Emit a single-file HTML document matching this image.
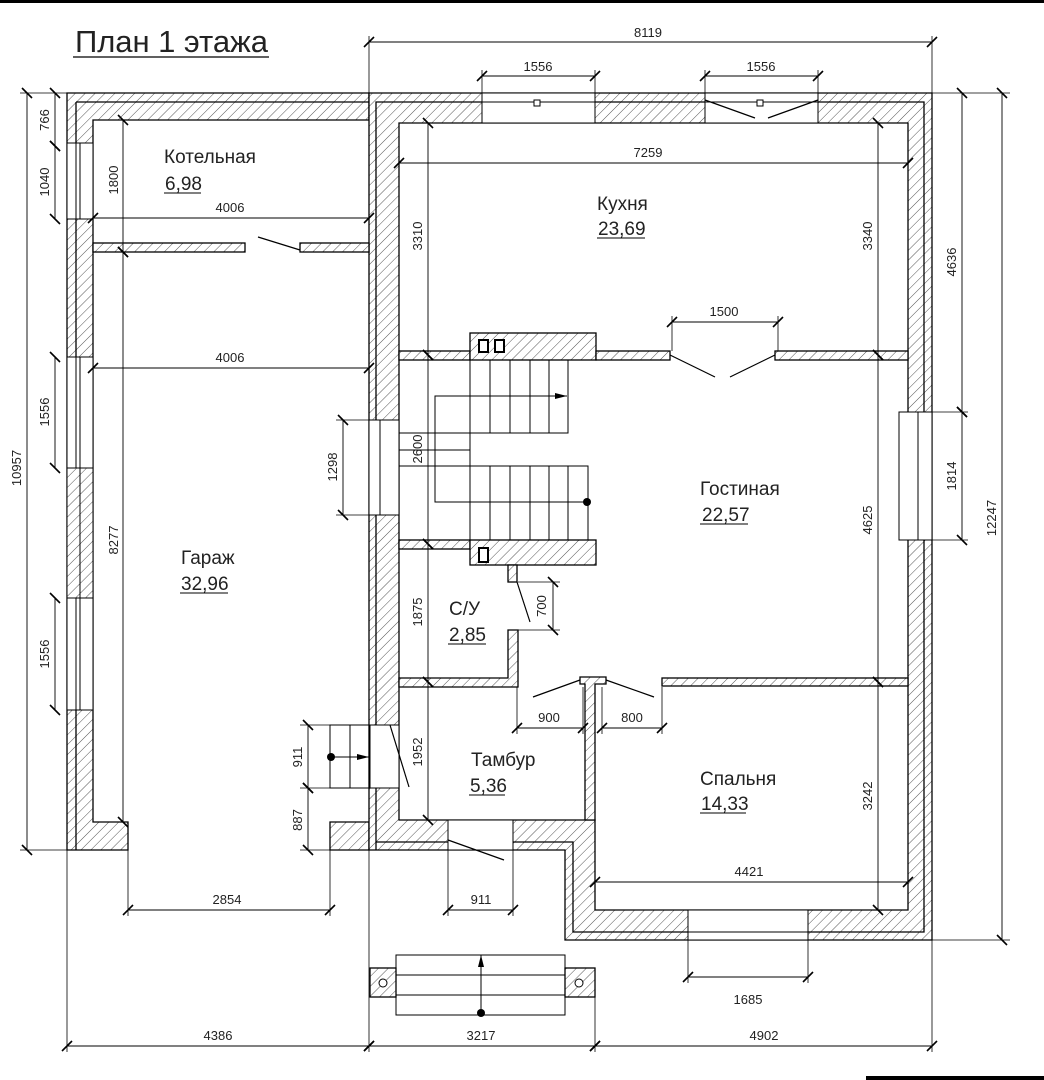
<!DOCTYPE html>
<html><head><meta charset="utf-8"><style>
html,body{margin:0;padding:0;background:#fff}
svg{display:block}
text{font-family:"Liberation Sans Narrow","Liberation Sans",sans-serif;fill:#222}
.d{font-size:13px}
.r{font-size:19px}
</style></head><body>
<svg width="1044" height="1080" viewBox="0 0 1044 1080" xmlns="http://www.w3.org/2000/svg">
<defs>
<pattern id="h" patternUnits="userSpaceOnUse" width="7" height="7" patternTransform="rotate(45)">
<rect width="7" height="7" fill="#fff"/><line x1="0" y1="0" x2="0" y2="7" stroke="#555" stroke-width="1"/>
</pattern>
<marker id="t" viewBox="-6 -6 12 12" markerWidth="12" markerHeight="12" orient="auto" markerUnits="userSpaceOnUse">
<path d="M-5,5 L5,-5" stroke="#000" stroke-width="1.6"/>
</marker>
<marker id="a" viewBox="0 -4 12 8" markerWidth="12" markerHeight="8" refX="12" refY="0" orient="auto" markerUnits="userSpaceOnUse">
<path d="M0,-3 L12,0 L0,3z" fill="#000"/>
</marker>
</defs>
<rect x="0" y="0" width="1044" height="3" fill="#000"/>
<rect x="866" y="1076" width="178" height="4" fill="#000"/>

<text x="75" y="52" style="font-size:31px;font-weight:300" textLength="193">План 1 этажа</text>
<line x1="73" y1="57" x2="269" y2="57" stroke="#000" stroke-width="1.2"/>

<g stroke="#000" stroke-width="1.3" fill="url(#h)">
<!-- garage walls -->
<path d="M67,93 H369 V120 H93 V822 H128 V850 H67 Z"/>
<path d="M330,822 H369 V850 H330 Z"/>
<line x1="76" y1="102" x2="369" y2="102"/>
<line x1="76" y1="102" x2="76" y2="850"/>
<!-- house ring -->
<path fill-rule="evenodd" d="M369,93 H932 V940 H565 V850 H369 Z M399,123 H908 V910 H595 V820 H399 Z"/>
<path fill="none" d="M376,850 V102 H924 V932 H573 V842 H376"/>
<!-- garage partition -->
<rect x="93" y="243" width="152" height="9"/>
<rect x="300" y="243" width="69" height="9"/>
<!-- kitchen/living partition -->
<rect x="399" y="351" width="71" height="9"/>
<rect x="470" y="333" width="126" height="27"/>
<rect x="596" y="351" width="74" height="9"/>
<rect x="775" y="351" width="133" height="9"/>
<!-- under stair -->
<rect x="399" y="540" width="71" height="9"/>
<rect x="470" y="540" width="126" height="25"/>
<rect x="508" y="565" width="9" height="17"/>
<!-- C/U walls -->
<path d="M508,630 H518 V687 H399 V678 H508 Z"/>
<!-- tambur right wall -->
<path d="M580,677 H606 V684 H595 V820 H585 V684 H580 Z"/>
<!-- bedroom partition -->
<rect x="662" y="678" width="246" height="8"/>
<!-- porch ends -->
<rect x="370" y="968" width="26" height="29"/>
<rect x="565" y="968" width="30" height="29"/>
</g>
<circle cx="383" cy="983" r="4" fill="#fff" stroke="#000"/>
<circle cx="579" cy="983" r="4" fill="#fff" stroke="#000"/>
<!-- chimney vents -->
<g fill="#fff" stroke="#000" stroke-width="2">
<rect x="479" y="340" width="9" height="12"/><rect x="495" y="340" width="9" height="12"/>
<rect x="479" y="548" width="9" height="14"/>
</g>

<!-- windows -->
<g fill="#fff" stroke="#000" stroke-width="1">
<rect x="482" y="93" width="113" height="30"/><line x1="482" y1="102" x2="595" y2="102"/><rect x="534" y="100" width="6" height="6"/>
<rect x="705" y="93" width="113" height="30"/><line x1="705" y1="102" x2="818" y2="102"/><rect x="757" y="100" width="6" height="6"/>
<rect x="688" y="910" width="120" height="30"/><line x1="688" y1="932" x2="808" y2="932"/>
<rect x="899" y="412" width="33" height="128"/><line x1="918" y1="412" x2="918" y2="540"/>
<rect x="369" y="420" width="30" height="95"/><line x1="380" y1="420" x2="380" y2="515"/>
<rect x="67" y="143" width="26" height="76"/><line x1="76" y1="143" x2="76" y2="219"/><line x1="80" y1="143" x2="80" y2="219"/>
<rect x="67" y="357" width="26" height="111"/><line x1="76" y1="357" x2="76" y2="468"/><line x1="80" y1="357" x2="80" y2="468"/>
<rect x="67" y="468" width="26" height="130" fill="url(#h)"/><line x1="80" y1="468" x2="80" y2="598"/>
<rect x="67" y="598" width="26" height="112"/><line x1="76" y1="598" x2="76" y2="710"/><line x1="80" y1="598" x2="80" y2="710"/>
<!-- entrance opening -->
<rect x="448" y="820" width="65" height="30"/>
<rect x="369" y="725" width="30" height="63"/>
</g>

<!-- door swings -->
<g stroke="#000" stroke-width="1.2" fill="none">
<line x1="258" y1="237" x2="300" y2="250"/>
<line x1="670" y1="355" x2="715" y2="377"/>
<line x1="775" y1="355" x2="730" y2="377"/>
<line x1="705" y1="100" x2="755" y2="118"/><line x1="818" y1="100" x2="768" y2="118"/>
<line x1="517" y1="582" x2="530" y2="622"/>
<line x1="580" y1="680" x2="533" y2="697"/>
<line x1="606" y1="680" x2="654" y2="697"/>
<line x1="390" y1="725" x2="409" y2="787"/>
<line x1="448" y1="840" x2="504" y2="860"/>
</g>

<!-- stairs -->
<g stroke="#000" stroke-width="1" fill="none">
<path d="M470,360 V433 H568 V360"/>
<line x1="490" y1="360" x2="490" y2="433"/><line x1="510" y1="360" x2="510" y2="433"/><line x1="530" y1="360" x2="530" y2="433"/><line x1="549" y1="360" x2="549" y2="433"/>
<path d="M470,540 V466 H588 V540"/>
<line x1="490" y1="466" x2="490" y2="540"/><line x1="510" y1="466" x2="510" y2="540"/><line x1="530" y1="466" x2="530" y2="540"/><line x1="549" y1="466" x2="549" y2="540"/><line x1="568" y1="466" x2="568" y2="540"/>
<line x1="399" y1="433" x2="470" y2="433"/><line x1="399" y1="450" x2="470" y2="450"/><line x1="399" y1="466" x2="470" y2="466"/>
<line x1="470" y1="433" x2="470" y2="466"/>
<path d="M587,502 H435 V396 H567" marker-end="url(#a)"/>
<!-- left step -->
<rect x="330" y="725" width="40" height="63"/><line x1="350" y1="725" x2="350" y2="788"/>
<path d="M331,757 H369" marker-end="url(#a)"/>
<!-- porch step -->
<rect x="396" y="955" width="169" height="60"/><line x1="396" y1="975" x2="565" y2="975"/><line x1="396" y1="995" x2="565" y2="995"/>
<path d="M481,1014 V955" marker-end="url(#a)"/>
</g>
<circle cx="587" cy="502" r="4" fill="#000"/>
<circle cx="331" cy="757" r="4" fill="#000"/>
<circle cx="481" cy="1013" r="4" fill="#000"/>

<!-- dimension lines -->
<g stroke="#000" stroke-width="0.9" fill="none" marker-start="url(#t)" marker-end="url(#t)">
<line x1="369" y1="42" x2="932" y2="42"/>
<line x1="482" y1="76" x2="595" y2="76"/>
<line x1="705" y1="76" x2="818" y2="76"/>
<line x1="399" y1="163" x2="908" y2="163"/>
<line x1="93" y1="218" x2="369" y2="218"/>
<line x1="93" y1="368" x2="369" y2="368"/>
<line x1="123" y1="120" x2="123" y2="252"/>
<line x1="123" y1="252" x2="123" y2="822"/>
<line x1="27" y1="93" x2="27" y2="850"/>
<line x1="55" y1="93" x2="55" y2="146"/>
<line x1="55" y1="146" x2="55" y2="219"/>
<line x1="55" y1="357" x2="55" y2="468"/>
<line x1="55" y1="598" x2="55" y2="710"/>
<line x1="428" y1="123" x2="428" y2="355"/>
<line x1="428" y1="355" x2="428" y2="544"/>
<line x1="428" y1="544" x2="428" y2="682"/>
<line x1="428" y1="682" x2="428" y2="820"/>
<line x1="878" y1="123" x2="878" y2="355"/>
<line x1="878" y1="355" x2="878" y2="682"/>
<line x1="878" y1="682" x2="878" y2="910"/>
<line x1="343" y1="420" x2="343" y2="515"/>
<line x1="553" y1="582" x2="553" y2="630"/>
<line x1="672" y1="322" x2="778" y2="322"/>
<line x1="517" y1="728" x2="583" y2="728"/>
<line x1="602" y1="728" x2="662" y2="728"/>
<line x1="308" y1="725" x2="308" y2="788"/>
<line x1="308" y1="788" x2="308" y2="850"/>
<line x1="128" y1="910" x2="330" y2="910"/>
<line x1="448" y1="910" x2="513" y2="910"/>
<line x1="595" y1="882" x2="908" y2="882"/>
<line x1="688" y1="977" x2="808" y2="977"/>
<line x1="67" y1="1046" x2="369" y2="1046"/>
<line x1="369" y1="1046" x2="595" y2="1046"/>
<line x1="595" y1="1046" x2="932" y2="1046"/>
<line x1="962" y1="93" x2="962" y2="412"/>
<line x1="962" y1="412" x2="962" y2="540"/>
<line x1="1002" y1="93" x2="1002" y2="940"/>
</g>
<!-- extension lines -->
<g stroke="#000" stroke-width="0.8">
<line x1="369" y1="36" x2="369" y2="93"/><line x1="932" y1="36" x2="932" y2="93"/>
<line x1="482" y1="70" x2="482" y2="100"/><line x1="595" y1="70" x2="595" y2="100"/>
<line x1="705" y1="70" x2="705" y2="100"/><line x1="818" y1="70" x2="818" y2="100"/>
<line x1="20" y1="93" x2="67" y2="93"/><line x1="20" y1="850" x2="67" y2="850"/>
<line x1="932" y1="93" x2="1010" y2="93"/><line x1="932" y1="940" x2="1010" y2="940"/>
<line x1="932" y1="412" x2="968" y2="412"/><line x1="932" y1="540" x2="968" y2="540"/>
<line x1="67" y1="850" x2="67" y2="1052"/><line x1="369" y1="850" x2="369" y2="1052"/><line x1="595" y1="997" x2="595" y2="1052"/><line x1="932" y1="940" x2="932" y2="1052"/>
<line x1="128" y1="850" x2="128" y2="916"/><line x1="330" y1="850" x2="330" y2="916"/>
<line x1="448" y1="850" x2="448" y2="916"/><line x1="513" y1="850" x2="513" y2="916"/>
<line x1="688" y1="940" x2="688" y2="983"/><line x1="808" y1="940" x2="808" y2="983"/>
<line x1="672" y1="316" x2="672" y2="351"/><line x1="778" y1="316" x2="778" y2="351"/>
<line x1="517" y1="687" x2="517" y2="734"/><line x1="583" y1="687" x2="583" y2="734"/>
<line x1="602" y1="687" x2="602" y2="734"/><line x1="662" y1="687" x2="662" y2="734"/>
<line x1="336" y1="420" x2="369" y2="420"/><line x1="336" y1="515" x2="369" y2="515"/>
<line x1="300" y1="725" x2="330" y2="725"/><line x1="300" y1="788" x2="330" y2="788"/><line x1="300" y1="850" x2="330" y2="850"/>
<line x1="518" y1="582" x2="560" y2="582"/><line x1="518" y1="630" x2="560" y2="630"/>
</g>

<!-- dimension texts -->
<g class="d" text-anchor="middle">
<text x="648" y="37">8119</text>
<text x="538" y="71">1556</text>
<text x="761" y="71">1556</text>
<text x="648" y="157">7259</text>
<text x="230" y="212">4006</text>
<text x="230" y="362">4006</text>
<text x="724" y="316">1500</text>
<text x="549" y="722">900</text>
<text x="632" y="722">800</text>
<text x="227" y="904">2854</text>
<text x="481" y="904">911</text>
<text x="749" y="876">4421</text>
<text x="748" y="1004">1685</text>
<text x="218" y="1040">4386</text>
<text x="481" y="1040">3217</text>
<text x="764" y="1040">4902</text>
<text transform="translate(118,180) rotate(-90)">1800</text>
<text transform="translate(118,540) rotate(-90)">8277</text>
<text transform="translate(21,468) rotate(-90)">10957</text>
<text transform="translate(49,120) rotate(-90)">766</text>
<text transform="translate(49,182) rotate(-90)">1040</text>
<text transform="translate(49,412) rotate(-90)">1556</text>
<text transform="translate(49,654) rotate(-90)">1556</text>
<text transform="translate(422,236) rotate(-90)">3310</text>
<text transform="translate(422,449) rotate(-90)">2600</text>
<text transform="translate(422,612) rotate(-90)">1875</text>
<text transform="translate(422,752) rotate(-90)">1952</text>
<text transform="translate(872,236) rotate(-90)">3340</text>
<text transform="translate(872,520) rotate(-90)">4625</text>
<text transform="translate(872,796) rotate(-90)">3242</text>
<text transform="translate(337,467) rotate(-90)">1298</text>
<text transform="translate(546,606) rotate(-90)">700</text>
<text transform="translate(302,757) rotate(-90)">911</text>
<text transform="translate(302,820) rotate(-90)">887</text>
<text transform="translate(956,262) rotate(-90)">4636</text>
<text transform="translate(956,476) rotate(-90)">1814</text>
<text transform="translate(996,518) rotate(-90)">12247</text>
</g>

<!-- room labels -->
<g class="r">
<text x="164" y="163">Котельная</text><text x="165" y="190">6,98</text><line x1="164" y1="193" x2="201" y2="193" stroke="#000"/>
<text x="597" y="210">Кухня</text><text x="598" y="235">23,69</text><line x1="597" y1="238" x2="645" y2="238" stroke="#000"/>
<text x="700" y="495">Гостиная</text><text x="702" y="521">22,57</text><line x1="700" y1="524" x2="748" y2="524" stroke="#000"/>
<text x="181" y="564">Гараж</text><text x="181" y="590">32,96</text><line x1="180" y1="593" x2="228" y2="593" stroke="#000"/>
<text x="449" y="615">С/У</text><text x="449" y="641">2,85</text><line x1="448" y1="644" x2="486" y2="644" stroke="#000"/>
<text x="471" y="766">Тамбур</text><text x="470" y="792">5,36</text><line x1="469" y1="795" x2="505" y2="795" stroke="#000"/>
<text x="700" y="785">Спальня</text><text x="701" y="810">14,33</text><line x1="700" y1="813" x2="746" y2="813" stroke="#000"/>
</g>
</svg>
</body></html>
